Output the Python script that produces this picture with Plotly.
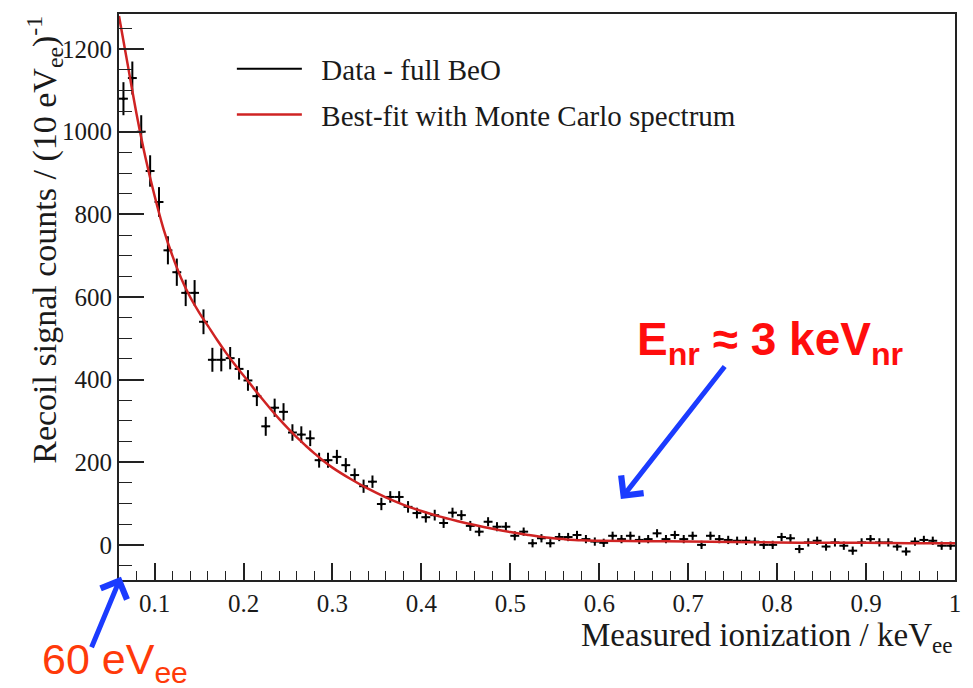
import plotly.graph_objects as go

# ---- data ----
bin_centers = [0.065, 0.075, 0.085, 0.095, 0.105, 0.115, 0.125, 0.135, 0.145, 0.155,
               0.165, 0.175, 0.185, 0.195, 0.205, 0.215, 0.225, 0.235, 0.245, 0.255,
               0.265, 0.275, 0.285, 0.295, 0.305, 0.315, 0.325, 0.335, 0.345, 0.355,
               0.365, 0.375, 0.385, 0.395, 0.405, 0.415, 0.425, 0.435, 0.445, 0.455,
               0.465, 0.475, 0.485, 0.495, 0.505, 0.515, 0.525, 0.535, 0.545, 0.555,
               0.565, 0.575, 0.585, 0.595, 0.605, 0.615, 0.625, 0.635, 0.645, 0.655,
               0.665, 0.675, 0.685, 0.695, 0.705, 0.715, 0.725, 0.735, 0.745, 0.755,
               0.765, 0.775, 0.785, 0.795, 0.805, 0.815, 0.825, 0.835, 0.845, 0.855,
               0.865, 0.875, 0.885, 0.895, 0.905, 0.915, 0.925, 0.935, 0.945, 0.955,
               0.965, 0.975, 0.985, 0.995]
counts = [1080, 1130, 1000, 905, 830, 713, 660, 610, 610, 540,
          448, 448, 452, 426, 398, 360, 287, 332, 322, 272,
          267, 258, 205, 205, 213, 193, 169, 142, 153, 99,
          116, 116, 92, 77, 67, 72, 53, 78, 72, 46,
          32, 56, 44, 44, 22, 32, 4, 16, 4, 19,
          19, 24, 14, 8, 5, 22, 14, 22, 12, 14,
          28, 14, 24, 14, 22, 0, 22, 14, 12, 10,
          10, 8, 0, 0, 19, 16, -10, 6, 10, -4,
          6, -2, -14, 6, 14, 6, 6, -4, -16, 8,
          12, 10, -2, -2]
count_err = [40, 40, 40, 38, 36, 34, 33, 32, 31, 30,
             29, 28, 27, 26, 25, 24, 23, 22, 21, 20,
             20, 19, 18, 18, 17, 17, 16, 16, 15, 15,
             14, 14, 14, 13, 13, 13, 12, 12, 12, 12,
             11, 11, 11, 11, 11, 10, 10, 10, 10, 10,
             10, 10, 10, 10, 10, 10, 10, 10, 10, 10,
             10, 10, 10, 10, 10, 10, 10, 10, 10, 10,
             10, 10, 10, 10, 10, 10, 10, 10, 10, 10,
             10, 10, 10, 10, 10, 10, 10, 10, 10, 10,
             10, 10, 10, 10]
bin_half_width = [0.005] * len(bin_centers)

fit_x = [0.060, 0.070, 0.080, 0.090, 0.100, 0.110, 0.120, 0.130, 0.140, 0.150,
         0.160, 0.170, 0.180, 0.190, 0.200, 0.210, 0.220, 0.230, 0.240, 0.250,
         0.260, 0.270, 0.280, 0.290, 0.300, 0.320, 0.340, 0.360, 0.380, 0.400,
         0.420, 0.440, 0.460, 0.480, 0.500, 0.520, 0.540, 0.560, 0.580, 0.600,
         0.650, 0.700, 0.750, 0.800, 0.850, 0.900, 0.950, 1.000]
fit_y = [1280, 1160, 1040, 935, 845, 765, 700, 645, 600, 563,
         530, 497, 466, 437, 410, 383, 356, 330, 305, 282,
         260, 240, 221, 203, 187, 160, 136, 115, 97, 82,
         69, 58, 48, 39, 31, 24, 18, 14, 11, 10,
         9, 8, 7, 6, 5, 5, 4, 4]

x_tickvals = [0.1, 0.2, 0.3, 0.4, 0.5, 0.6, 0.7, 0.8, 0.9, 1.0]
x_ticktext = ["0.1", "0.2", "0.3", "0.4", "0.5", "0.6", "0.7", "0.8", "0.9", "1"]
y_tickvals = [0, 200, 400, 600, 800, 1000, 1200]

legend_data = "\u00a0\u00a0Data - full BeO"
legend_fit = "\u00a0\u00a0Best-fit with Monte Carlo spectrum"

SERIF = "Liberation Serif, Times New Roman, serif"
SANS = "Liberation Sans, Arial, sans-serif"

fig = go.Figure()

# data points with error bars
fig.add_trace(go.Scatter(
    x=bin_centers, y=counts, mode="markers",
    marker=dict(color="black", size=3),
    error_x=dict(type="data", array=bin_half_width, color="black", thickness=2, width=0),
    error_y=dict(type="data", array=count_err, color="black", thickness=2, width=0),
    showlegend=False, legendgroup="data", name=legend_data,
))
# legend entry for data (line style as in ROOT legend)
fig.add_trace(go.Scatter(
    x=[None], y=[None], mode="lines", line=dict(color="black", width=2),
    name=legend_data, legendgroup="data",
))
# fit curve
fig.add_trace(go.Scatter(
    x=fit_x, y=fit_y, mode="lines", line=dict(color="#cf2323", width=2.5, shape="spline"),
    name=legend_fit, legendgroup="fit",
))

fig.update_layout(
    width=973, height=688,
    margin=dict(l=119, r=16, t=12, b=108),
    paper_bgcolor="white", plot_bgcolor="white",
    font=dict(family=SERIF, color="#1a1a1a"),
    legend=dict(
        x=0.135, y=0.948, xanchor="left", yanchor="top",
        font=dict(family=SERIF, size=29, color="#1a1a1a"),
        bgcolor="rgba(0,0,0,0)", itemwidth=65,
        traceorder="grouped", tracegroupgap=5,
    ),
    xaxis=dict(
        range=[0.06, 1.0], tickvals=x_tickvals, ticktext=x_ticktext,
        ticks="inside", ticklen=17, tickwidth=1.5, tickcolor="#222",
        showline=True, linecolor="#222", linewidth=2, mirror=True,
        showgrid=False, zeroline=False,
        tickfont=dict(family=SERIF, size=25, color="#1a1a1a"),
        minor=dict(dtick=0.02, ticks="inside", ticklen=9, tickwidth=1.2,
                   tickcolor="#222", showgrid=False),
    ),
    yaxis=dict(
        range=[-85, 1285], tickvals=y_tickvals,
        ticks="inside", ticklen=25, tickwidth=1.5, tickcolor="#222",
        showline=True, linecolor="#222", linewidth=2, mirror=True,
        showgrid=False, zeroline=False,
        tickfont=dict(family=SERIF, size=25, color="#1a1a1a"),
        minor=dict(dtick=50, ticks="inside", ticklen=13, tickwidth=1.2,
                   tickcolor="#222", showgrid=False),
    ),
)

annotations = [
    # y-axis title (ROOT style, aligned to top)
    dict(text="Recoil signal counts / (10 eV<sub>ee</sub>)<sup>-1</sup>",
         xref="paper", yref="paper", x=-0.090, y=1.0, xanchor="center", yanchor="top",
         textangle=-90, showarrow=False,
         font=dict(family=SERIF, size=34, color="#1a1a1a")),
    # x-axis title (ROOT style, aligned right)
    dict(text="Measured ionization / keV<sub>ee</sub>",
         xref="paper", yref="paper", x=1.0, y=-0.062, xanchor="right", yanchor="top",
         showarrow=False, font=dict(family=SERIF, size=33, color="#1a1a1a")),
    # red label
    dict(text="<b>E<sub>nr</sub> ≈ 3 keV<sub>nr</sub></b>",
         xref="paper", yref="paper", x=0.779, y=0.419, xanchor="center", yanchor="middle",
         showarrow=False, font=dict(family=SANS, size=46, color="#ff0d0d")),
    dict(text="60 eV<sub>ee</sub>",
         xref="paper", yref="paper", x=-0.005, y=-0.196, xanchor="center", yanchor="bottom",
         showarrow=False, font=dict(family=SANS, size=43, color="#ff3a0a")),
    # blue arrows
    dict(text="", x=0.6243, y=111, xref="x", yref="y", ax=105, ay=-134,
         showarrow=True, arrowhead=4, arrowsize=1.1, arrowwidth=5, arrowcolor="#1b3bff",
         standoff=0, startstandoff=0),
    dict(text="", x=0.0622, y=-77, xref="x", yref="y", ax=-30, ay=72,
         showarrow=True, arrowhead=4, arrowsize=1.1, arrowwidth=5, arrowcolor="#1b3bff",
         standoff=0, startstandoff=0),
]
fig.update_layout(annotations=annotations)

fig.write_html("out.html")
